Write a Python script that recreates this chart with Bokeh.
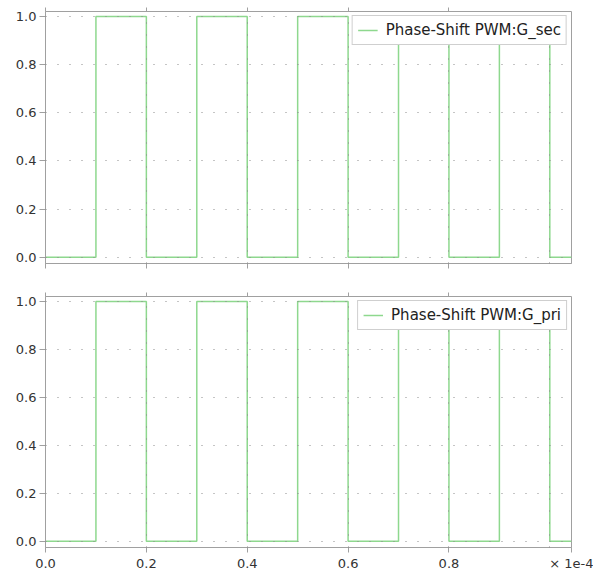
from bokeh.plotting import figure
from bokeh.layouts import column
from bokeh.models import FixedTicker, NumeralTickFormatter, LinearAxis, Range1d, CustomJSTickFormatter
from bokeh.embed import file_html
from bokeh.resources import INLINE

# ---- data (time in seconds, gate signals 0/1) ----
time_s = [0.0, 1.0e-5, 2.0e-5, 3.0e-5, 4.0e-5, 5.0e-5, 6.0e-5, 7.0e-5, 8.0e-5, 9.0e-5, 1.0e-4, 1.043e-4]
g_sec = [0, 1, 0, 1, 0, 1, 0, 1, 0, 1, 0, 0]
g_pri = [0, 1, 0, 1, 0, 1, 0, 1, 0, 1, 0, 0]
series_names = ["Phase-Shift PWM:G_sec", "Phase-Shift PWM:G_pri"]
x_scale = 1e-4
x_end = 1.043
x_ticks = [0.0, 0.2, 0.4, 0.6, 0.8]
x_tick_labels = ["0.0", "0.2", "0.4", "0.6", "0.8"]
x_grid = [0.2, 0.4, 0.6, 0.8, 1.0]
y_ticks = [0.0, 0.2, 0.4, 0.6, 0.8, 1.0]
x_mult_label = "× 1e-4"

GRAY = "#a0a0a0"
TXT = "#333333"
GREEN = "#8ed88e"
FONT = "DejaVu Sans"

t = [v / x_scale for v in time_s]


def make_fig(values, name, height, top, bottom, show_xlabels):
    p = figure(width=593, height=height, output_backend="svg", toolbar_location=None,
               x_range=Range1d(0, x_end), y_range=Range1d(-0.026, 1.021),
               min_border_left=45, min_border_right=22, min_border_top=top,
               min_border_bottom=bottom)
    p.outline_line_color = GRAY
    p.background_fill_color = "white"
    p.border_fill_color = "white"
    p.step(t, values, mode="after", line_color=GREEN, line_width=1.5, legend_label=name)

    # y axis
    ya = p.yaxis[0]
    ya.ticker = FixedTicker(ticks=y_ticks)
    ya.formatter = NumeralTickFormatter(format="0.0")
    ya.axis_line_color = GRAY
    ya.major_tick_line_color = GRAY
    ya.major_tick_in = 0
    ya.major_tick_out = 6
    ya.minor_tick_line_color = None
    ya.major_label_standoff = 3
    ya.major_label_text_font = FONT
    ya.major_label_text_font_size = "13px"
    ya.major_label_text_color = TXT

    # x axis
    xa = p.xaxis[0]
    xa.axis_line_color = GRAY
    xa.major_tick_line_color = GRAY
    xa.major_tick_in = 0
    xa.major_tick_out = 5
    xa.minor_tick_line_color = None
    xa.major_label_standoff = 3
    xa.major_label_text_font = FONT
    xa.major_label_text_font_size = "13px"
    xa.major_label_text_color = TXT
    if show_xlabels:
        xa.ticker = FixedTicker(ticks=x_ticks + [x_end])
        overrides = {tk: lb for tk, lb in zip(x_ticks, x_tick_labels)}
        overrides[x_end] = x_mult_label
        xa.major_label_overrides = overrides
    else:
        xa.ticker = FixedTicker(ticks=x_ticks)
        xa.formatter = CustomJSTickFormatter(code="return ''")
        xa.major_label_standoff = 0

    top_axis = LinearAxis(ticker=FixedTicker(ticks=x_ticks), axis_line_color=None,
                          major_tick_line_color=GRAY, major_tick_in=0, major_tick_out=4,
                          minor_tick_line_color=None,
                          formatter=CustomJSTickFormatter(code="return ''"),
                          major_label_standoff=0)
    p.add_layout(top_axis, "above")

    # grids (dotted, drawn over the trace like the reference)
    p.xgrid.ticker = FixedTicker(ticks=x_grid)
    p.ygrid.ticker = FixedTicker(ticks=y_ticks)
    for g in (p.xgrid, p.ygrid):
        g.grid_line_color = "#8a8a8a"
        g.grid_line_dash = "1 11"
        g.grid_line_width = 1
        g.level = "annotation"

    # legend
    lg = p.legend[0]
    lg.location = "top_right"
    lg.margin = 4
    lg.padding = 5
    lg.spacing = 0
    lg.glyph_width = 20
    lg.glyph_height = 18
    lg.label_height = 18
    lg.label_standoff = 8
    lg.label_text_font = FONT
    lg.label_text_font_size = "15px"
    lg.label_text_color = "#222222"
    lg.border_line_color = GRAY
    lg.background_fill_alpha = 1.0
    return p


p1 = make_fig(g_sec, series_names[0], 280, 11, 17, False)
p2 = make_fig(g_pri, series_names[1], 295, 16, 28, True)

layout = column(p1, p2, spacing=0)
open("out.html", "w").write(file_html(layout, INLINE))
